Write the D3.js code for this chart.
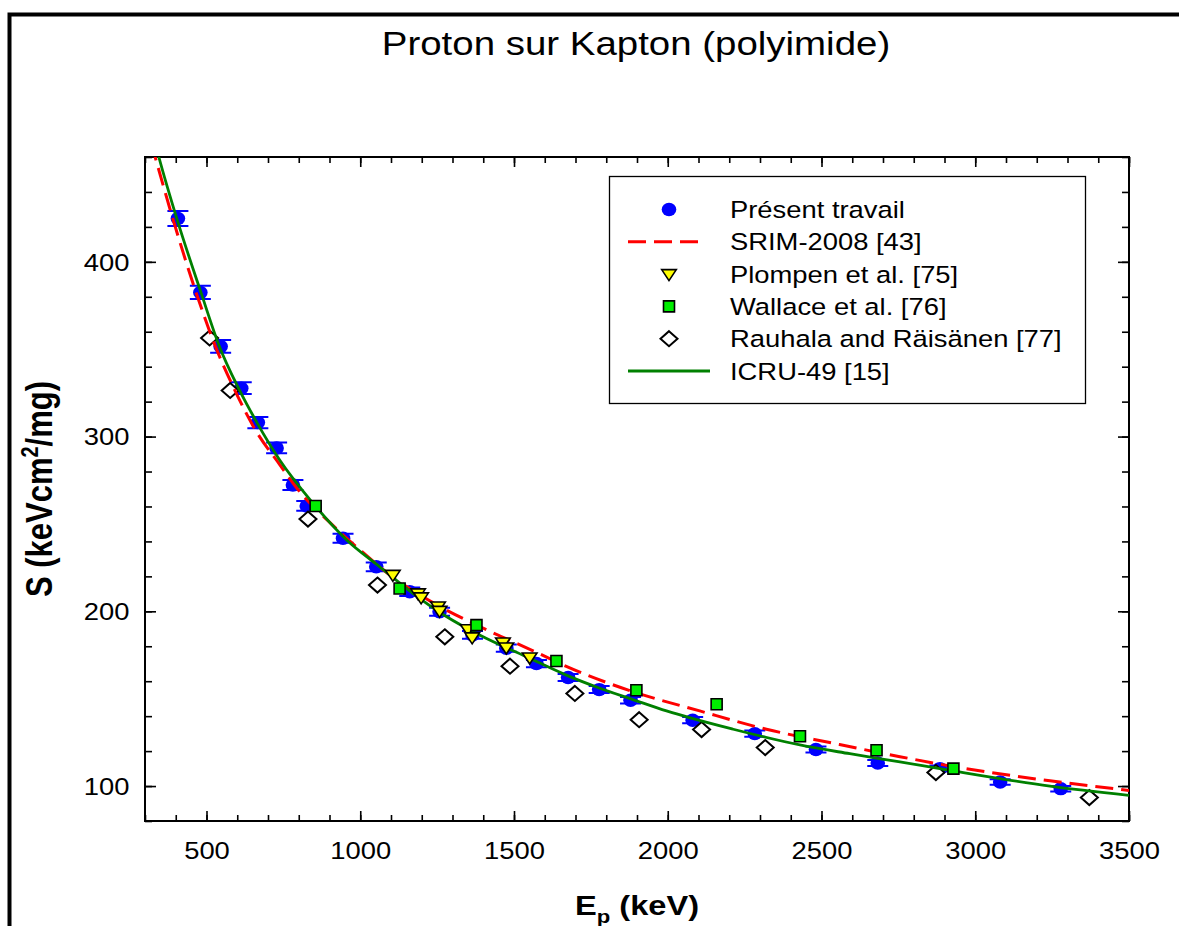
<!DOCTYPE html>
<html>
<head>
<meta charset="utf-8">
<script src="https://cdn.jsdelivr.net/npm/d3@7"></script>
<style>
  body { margin: 0; background: #fff; }
  svg { display: block; font-family: "Liberation Sans", Arial, sans-serif; }
</style>
</head>
<body>
<div id="chart"></div>
<script>
/* CONSTANTS AND GLOBALS */
const width = 1179, height = 926;
const plot = { left: 145, right: 1129, top: 157, bottom: 821 };
const sx = 1.165; // text in the picture is a bit wider than plain Arial

/* DATA */
// Présent travail
const presentE = [407, 480, 546, 613, 667, 728, 781, 826, 944, 1052, 1161, 1258, 1365, 1475, 1573, 1676, 1777, 1879, 2081, 2283, 2482, 2683, 2885, 3081, 3278];
const presentS = [424.8, 382.5, 351.6, 327.7, 308, 293.5, 272.3, 260.3, 241.8, 225.5, 211.2, 199.7, 186.5, 178.9, 170.1, 162.1, 155.2, 149.1, 137.7, 130, 120.9, 113.2, 110, 102.3, 98.5];
const presentErr = [4.3, 3.8, 3.6, 3.4, 3.2, 3.1, 2.9, 2.8, 2.6, 2.5, 2.4, 2.3, 2.2, 2.1, 2.1, 2.0, 2.0, 1.9, 1.8, 1.8, 1.7, 1.7, 1.7, 1.6, 1.6];
// Plompen et al. [75]
const plompenE = [1106, 1188, 1198, 1253, 1258, 1350, 1364, 1464, 1475, 1551];
const plompenS = [220.3, 209.7, 207.4, 202.2, 199.7, 189.2, 184.5, 181.6, 178.7, 173];
// Wallace et al. [76]
const wallaceE = [855, 1128, 1378, 1638, 1898, 2159, 2430, 2679, 2929];
const wallaceS = [260.3, 213.1, 192.1, 171.6, 154.8, 146.8, 128.5, 120.5, 110];
// Rauhala and Räisänen [77]
const rauhalaE = [510, 577, 830, 1056, 1275, 1487, 1698, 1907, 2110, 2317, 2872, 3371];
const rauhalaS = [356.4, 326.4, 252.8, 215, 185.4, 168.6, 153, 138, 132.3, 122, 107.7, 93.4];
// SRIM-2008 [43]
const srimE = [320, 333, 390, 466, 529, 589, 660, 738, 803, 900, 1000, 1106, 1236, 1410, 1573, 1670, 1887, 2104, 2321, 2538, 2755, 2918, 3243, 3500];
const srimS = [468, 460, 425, 382.5, 351.6, 327.7, 303.5, 284, 268.5, 251, 235, 219.5, 205, 189.5, 176.5, 168.5, 154, 143, 132.5, 124.5, 116.8, 111.5, 103, 97.5];
// ICRU-49 [15]
const icruE = [330, 345, 403, 482, 542, 604, 664, 738, 841, 955, 1063, 1171, 1280, 1388, 1540, 1670, 1779, 1887, 1996, 2213, 2430, 2592, 2755, 2918, 3243, 3500];
const icruS = [470, 460, 425, 382.5, 351.6, 327.7, 308, 286.6, 263, 241, 225.5, 210.3, 197, 186.4, 174, 163.5, 156, 149.5, 143, 132.5, 123.5, 118.5, 113.8, 109, 100, 94.7];

// axes
const xDomain = [300, 3500];
const yDomain = [80, 460];
const xMajor = [500, 1000, 1500, 2000, 2500, 3000, 3500];
const yMajor = [100, 200, 300, 400];
const legendLabels = ["Présent travail", "SRIM-2008 [43]", "Plompen et al. [75]", "Wallace et al. [76]", "Rauhala and Räisänen [77]", "ICRU-49 [15]"];

const zip = (a, b) => a.map((v, i) => [v, b[i]]);

/* SCALES */
const x = d3.scaleLinear().domain(xDomain).range([plot.left, plot.right]);
const y = d3.scaleLinear().domain(yDomain).range([plot.bottom, plot.top]);
const xMinor = d3.range(300, 3501, 100);
const yMinor = d3.range(80, 461, 20);

const svg = d3.select("#chart").append("svg")
  .attr("width", width)
  .attr("height", height);

// outer frame (only top and left show in the picture)
svg.append("path")
  .attr("d", `M9.5,${height} V14.5 H${width}`)
  .attr("fill", "none")
  .attr("stroke", "#000")
  .attr("stroke-width", 4);

// title
svg.append("text")
  .attr("transform", `translate(636,55) scale(${sx},1)`)
  .attr("text-anchor", "middle")
  .attr("font-size", 33)
  .text("Proton sur Kapton (polyimide)");

/* AXES */
function axisGroup(axis, tx, ty) {
  const g = svg.append("g").attr("transform", `translate(${tx},${ty})`).call(axis);
  g.select(".domain").remove();
  g.selectAll("line").attr("stroke", "#000").attr("stroke-width", 1.6);
  return g;
}

// minor ticks
axisGroup(d3.axisBottom(x).tickValues(xMinor).tickSize(-6).tickFormat(""), 0, plot.bottom);
axisGroup(d3.axisTop(x).tickValues(xMinor).tickSize(-6).tickFormat(""), 0, plot.top);
axisGroup(d3.axisLeft(y).tickValues(yMinor).tickSize(-7).tickFormat(""), plot.left, 0);
axisGroup(d3.axisRight(y).tickValues(yMinor).tickSize(-7).tickFormat(""), plot.right, 0);

// major ticks + labels
const gx = axisGroup(d3.axisBottom(x).tickValues(xMajor).tickSize(-10).tickPadding(21).tickFormat(d3.format("d")), 0, plot.bottom);
axisGroup(d3.axisTop(x).tickValues(xMajor).tickSize(-10).tickFormat(""), 0, plot.top);
const gy = axisGroup(d3.axisLeft(y).tickValues(yMajor).tickSize(-11).tickPadding(15).tickFormat(d3.format("d")), plot.left, 0);
axisGroup(d3.axisRight(y).tickValues(yMajor).tickSize(-11).tickFormat(""), plot.right, 0);

gx.selectAll("text")
  .attr("font-family", null)
  .attr("font-size", 23.5)
  .attr("fill", "#000")
  .attr("y", 0)
  .attr("dy", null)
  .attr("transform", `translate(0,37.5) scale(${sx},1)`);

gy.selectAll("text")
  .attr("font-family", null)
  .attr("font-size", 23.5)
  .attr("fill", "#000")
  .attr("x", 0)
  .attr("dy", null)
  .attr("transform", `translate(-15.5,8.4) scale(${sx},1)`);

// plot box
svg.append("rect")
  .attr("x", plot.left).attr("y", plot.top)
  .attr("width", plot.right - plot.left)
  .attr("height", plot.bottom - plot.top)
  .attr("fill", "none")
  .attr("stroke", "#000")
  .attr("stroke-width", 2);

// axis titles
const xt = svg.append("text")
  .attr("transform", `translate(637,915) scale(${sx},1)`)
  .attr("text-anchor", "middle")
  .attr("font-size", 28)
  .attr("font-weight", "bold");
xt.append("tspan").text("E");
xt.append("tspan").attr("font-size", 19).attr("dy", 8).text("p");
xt.append("tspan").attr("dy", -8).text(" (keV)");

const yt = svg.append("text")
  .attr("transform", `translate(52,489) rotate(-90) scale(1,${sx})`)
  .attr("text-anchor", "middle")
  .attr("font-size", 31)
  .attr("font-weight", "bold");
yt.append("tspan").text("S (keVcm");
yt.append("tspan").attr("font-size", 20).attr("dy", -12).text("2");
yt.append("tspan").attr("dy", 12).text("/mg)");

/* MARKS */
svg.append("clipPath").attr("id", "clip")
  .append("rect")
  .attr("x", plot.left).attr("y", plot.top)
  .attr("width", plot.right - plot.left)
  .attr("height", plot.bottom - plot.top);

const line = d3.line()
  .x(d => x(d[0]))
  .y(d => y(d[1]))
  .curve(d3.curveMonotoneX);

const triPath = "M-7.3,-5.5 L7.3,-5.5 L0,5.5 Z";
const diaPath = "M0,-7.5 L8.5,0 L0,7.5 L-8.5,0 Z";

function drawPresent(g, data) {
  const pt = g.selectAll("g.present")
    .data(data)
    .join("g")
    .attr("class", "present")
    .attr("transform", d => `translate(${x(d[0])},${y(d[1])})`);
  pt.append("path")
    .attr("d", d => {
      const h = y(d[1] - d[2]) - y(d[1]);
      return `M-10.5,${-h} H10.5 M-10.5,${h} H10.5 M0,${-h} V${h}`;
    })
    .attr("stroke", "#0000ff")
    .attr("stroke-width", 2)
    .attr("fill", "none");
  pt.append("ellipse")
    .attr("rx", 7.3).attr("ry", 6.7)
    .attr("fill", "#0000ff");
}

function drawShape(g, data, cls, d, fill, sw) {
  g.selectAll("path." + cls)
    .data(data)
    .join("path")
    .attr("class", cls)
    .attr("d", d)
    .attr("transform", p => `translate(${x(p[0])},${y(p[1])})`)
    .attr("fill", fill)
    .attr("stroke", "#000")
    .attr("stroke-width", sw);
}

const marks = svg.append("g");
drawPresent(marks, presentE.map((e, i) => [e, presentS[i], presentErr[i]]));
drawShape(marks, zip(rauhalaE, rauhalaS), "rauhala", diaPath, "#fff", 2);

const curves = svg.append("g").attr("clip-path", "url(#clip)");
curves.append("path")
  .datum(zip(srimE, srimS))
  .attr("d", line)
  .attr("fill", "none")
  .attr("stroke", "#ff0000")
  .attr("stroke-width", 3)
  .attr("stroke-dasharray", "18,8");
curves.append("path")
  .datum(zip(icruE, icruS))
  .attr("d", line)
  .attr("fill", "none")
  .attr("stroke", "#008000")
  .attr("stroke-width", 2.8);

const marks2 = svg.append("g");
drawShape(marks2, zip(plompenE, plompenS), "plompen", triPath, "#ffff00", 1.6);
drawShape(marks2, zip(wallaceE, wallaceS), "wallace", "M-5.5,-5.5 H5.5 V5.5 H-5.5 Z", "#00ee00", 1.6);

/* LEGEND */
const legend = svg.append("g");
legend.append("rect")
  .attr("x", 609.5).attr("y", 176.5)
  .attr("width", 476).attr("height", 227)
  .attr("fill", "#fff")
  .attr("stroke", "#000")
  .attr("stroke-width", 1.3);

const rowY = i => 209.5 + i * 32.3;
const symX = 669;

legend.append("ellipse").attr("cx", symX).attr("cy", rowY(0)).attr("rx", 7.3).attr("ry", 6.7).attr("fill", "#0000ff");
legend.append("line").attr("x1", 628).attr("x2", 702).attr("y1", rowY(1)).attr("y2", rowY(1))
  .attr("stroke", "#ff0000").attr("stroke-width", 3).attr("stroke-dasharray", "18,8");
legend.append("path").attr("d", triPath).attr("transform", `translate(${symX},${rowY(2) + 1})`)
  .attr("fill", "#ffff00").attr("stroke", "#000").attr("stroke-width", 1.6);
legend.append("path").attr("d", "M-5.5,-5.5 H5.5 V5.5 H-5.5 Z").attr("transform", `translate(${symX},${rowY(3)})`)
  .attr("fill", "#00ee00").attr("stroke", "#000").attr("stroke-width", 1.6);
legend.append("path").attr("d", diaPath).attr("transform", `translate(${symX},${rowY(4)})`)
  .attr("fill", "#fff").attr("stroke", "#000").attr("stroke-width", 2);
legend.append("line").attr("x1", 628).attr("x2", 710).attr("y1", rowY(5)).attr("y2", rowY(5))
  .attr("stroke", "#008000").attr("stroke-width", 2.8);

legend.selectAll("text.lab")
  .data(legendLabels)
  .join("text")
  .attr("class", "lab")
  .attr("transform", (d, i) => `translate(730,${rowY(i) + 8.6}) scale(${sx},1)`)
  .attr("font-size", 23.5)
  .text(d => d);
</script>
</body>
</html>
